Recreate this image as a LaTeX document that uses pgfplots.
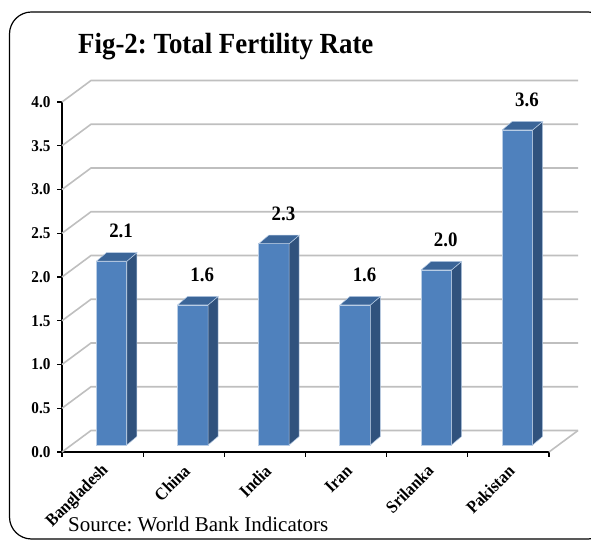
\documentclass[border=0pt]{standalone}
\usepackage{fontspec}
\setmainfont{Liberation Serif}
\newfontfamily\condfont[FakeStretch=0.92]{Liberation Serif}
\usepackage{pgfplots}
\pgfplotsset{compat=1.18}
\definecolor{barfront}{HTML}{4F81BD}
\definecolor{barside}{HTML}{30527D}
\definecolor{bartop}{HTML}{3B6598}
\definecolor{baredge}{HTML}{B9CDE5}
\definecolor{gridc}{HTML}{BFBFBF}
\frenchspacing
\begin{document}
\begin{tikzpicture}
\useasboundingbox (0,0) rectangle (591pt,540pt);
\begin{scope}
\clip (0,0) rectangle (591pt,540pt);
\draw[line width=1.2pt, rounded corners=22pt] (9.5pt,1pt) rectangle (610pt,528pt);
\end{scope}
\node[anchor=base west, inner sep=0pt, font=\condfont\fontsize{29.2}{32}\selectfont\bfseries] at (78pt,486pt) {Fig-2: Total Fertility Rate};
\node[anchor=base west, inner sep=0pt, font=\fontsize{21}{24}\selectfont] at (68pt,8.3pt) {Source: World Bank Indicators};
\begin{axis}[
  at={(62pt,88pt)}, anchor=south west,
  scale only axis, width=487pt, height=350pt,
  xmin=0, xmax=6, ymin=0, ymax=4,
  axis x line*=bottom, axis y line*=left,
  axis line style={line width=1.5pt, -},
  xtick={0,1,...,6},
  xticklabels={},
  extra x ticks={0.5,1.5,2.5,3.5,4.5,5.5},
  extra x tick labels={Bangladesh,China,India,Iran,Srilanka,Pakistan},
  extra x tick style={major tick length=0pt},
  ytick={0,0.5,...,4},
  tick align=outside,
  major tick length=5pt,
  tick style={black, line width=1.2pt},
  /pgf/number format/assume math mode=true,
  yticklabel style={font=\condfont\fontsize{16.5}{18}\selectfont\bfseries, xshift=-3pt},
  yticklabel={\pgfmathprintnumber[fixed,zerofill,precision=1]{\tick}},
  xticklabel style={font=\condfont\fontsize{17.5}{20}\selectfont\bfseries, rotate=45, anchor=east, xshift=-5.6pt, yshift=-13.6pt},
  clip=false,
]
\pgfplotsinvokeforeach{0,0.5,1,1.5,2,2.5,3,3.5,4}{
  \draw[gridc, line width=1.6pt] (axis cs:0,#1) -- ++(29pt,21.5pt) -- ([shift={(29pt,21.5pt)}]axis cs:6,#1);
}
\draw[gridc, line width=1.6pt] (axis cs:6,0) -- ++(29pt,21.5pt);
% front faces (values)
\addplot[ybar, bar width=30.5pt, bar shift=9pt, yshift=7pt,
  fill=barfront, draw=baredge, line width=0.7pt]
  coordinates {(0.5,2.1) (1.5,1.6) (2.5,2.3) (3.5,1.6) (4.5,2.0) (5.5,3.6)};
% side faces (depth of each bar)
\pgfplotsset{sideface/.style={fill=barside, draw=baredge, line width=0.5pt, mark=none}, topface/.style={fill=bartop, draw=baredge, line width=0.5pt, mark=none}}
\addplot[sideface] coordinates {(0.79877,0.08) (0.92197,0.17714) (0.92197,2.27714) (0.79877,2.18) (0.79877,0.08)};
\addplot[sideface] coordinates {(1.79877,0.08) (1.92197,0.17714) (1.92197,1.77714) (1.79877,1.68) (1.79877,0.08)};
\addplot[sideface] coordinates {(2.79877,0.08) (2.92197,0.17714) (2.92197,2.47714) (2.79877,2.38) (2.79877,0.08)};
\addplot[sideface] coordinates {(3.79877,0.08) (3.92197,0.17714) (3.92197,1.77714) (3.79877,1.68) (3.79877,0.08)};
\addplot[sideface] coordinates {(4.79877,0.08) (4.92197,0.17714) (4.92197,2.17714) (4.79877,2.08) (4.79877,0.08)};
\addplot[sideface] coordinates {(5.79877,0.08) (5.92197,0.17714) (5.92197,3.77714) (5.79877,3.68) (5.79877,0.08)};
% top faces
\addplot[topface] coordinates {(0.423,2.18) (0.79877,2.18) (0.92197,2.27714) (0.5462,2.27714) (0.423,2.18)};
\addplot[topface] coordinates {(1.423,1.68) (1.79877,1.68) (1.92197,1.77714) (1.5462,1.77714) (1.423,1.68)};
\addplot[topface] coordinates {(2.423,2.38) (2.79877,2.38) (2.92197,2.47714) (2.5462,2.47714) (2.423,2.38)};
\addplot[topface] coordinates {(3.423,1.68) (3.79877,1.68) (3.92197,1.77714) (3.5462,1.77714) (3.423,1.68)};
\addplot[topface] coordinates {(4.423,2.08) (4.79877,2.08) (4.92197,2.17714) (4.5462,2.17714) (4.423,2.08)};
\addplot[topface] coordinates {(5.423,3.68) (5.79877,3.68) (5.92197,3.77714) (5.5462,3.77714) (5.423,3.68)};
% value labels
\addplot[scatter, only marks, mark=*, mark size=0.01pt,
  mark options={line width=0pt, draw=barfront, fill=barfront},
  point meta=y,
  scatter/@pre marker code/.code={},
  scatter/@post marker code/.code={},
  nodes near coords={\pgfmathprintnumber[fixed,zerofill,precision=1]{\pgfplotspointmeta}},
  every node near coord/.append style={font=\condfont\fontsize{20.5}{22}\selectfont\bfseries, anchor=center, xshift=18.5pt, yshift=37pt},
] coordinates {(0.5,2.1) (1.5,1.6) (2.5,2.3) (3.5,1.6) (4.5,2.0) (5.5,3.6)};
\end{axis}
\end{tikzpicture}
\end{document}
